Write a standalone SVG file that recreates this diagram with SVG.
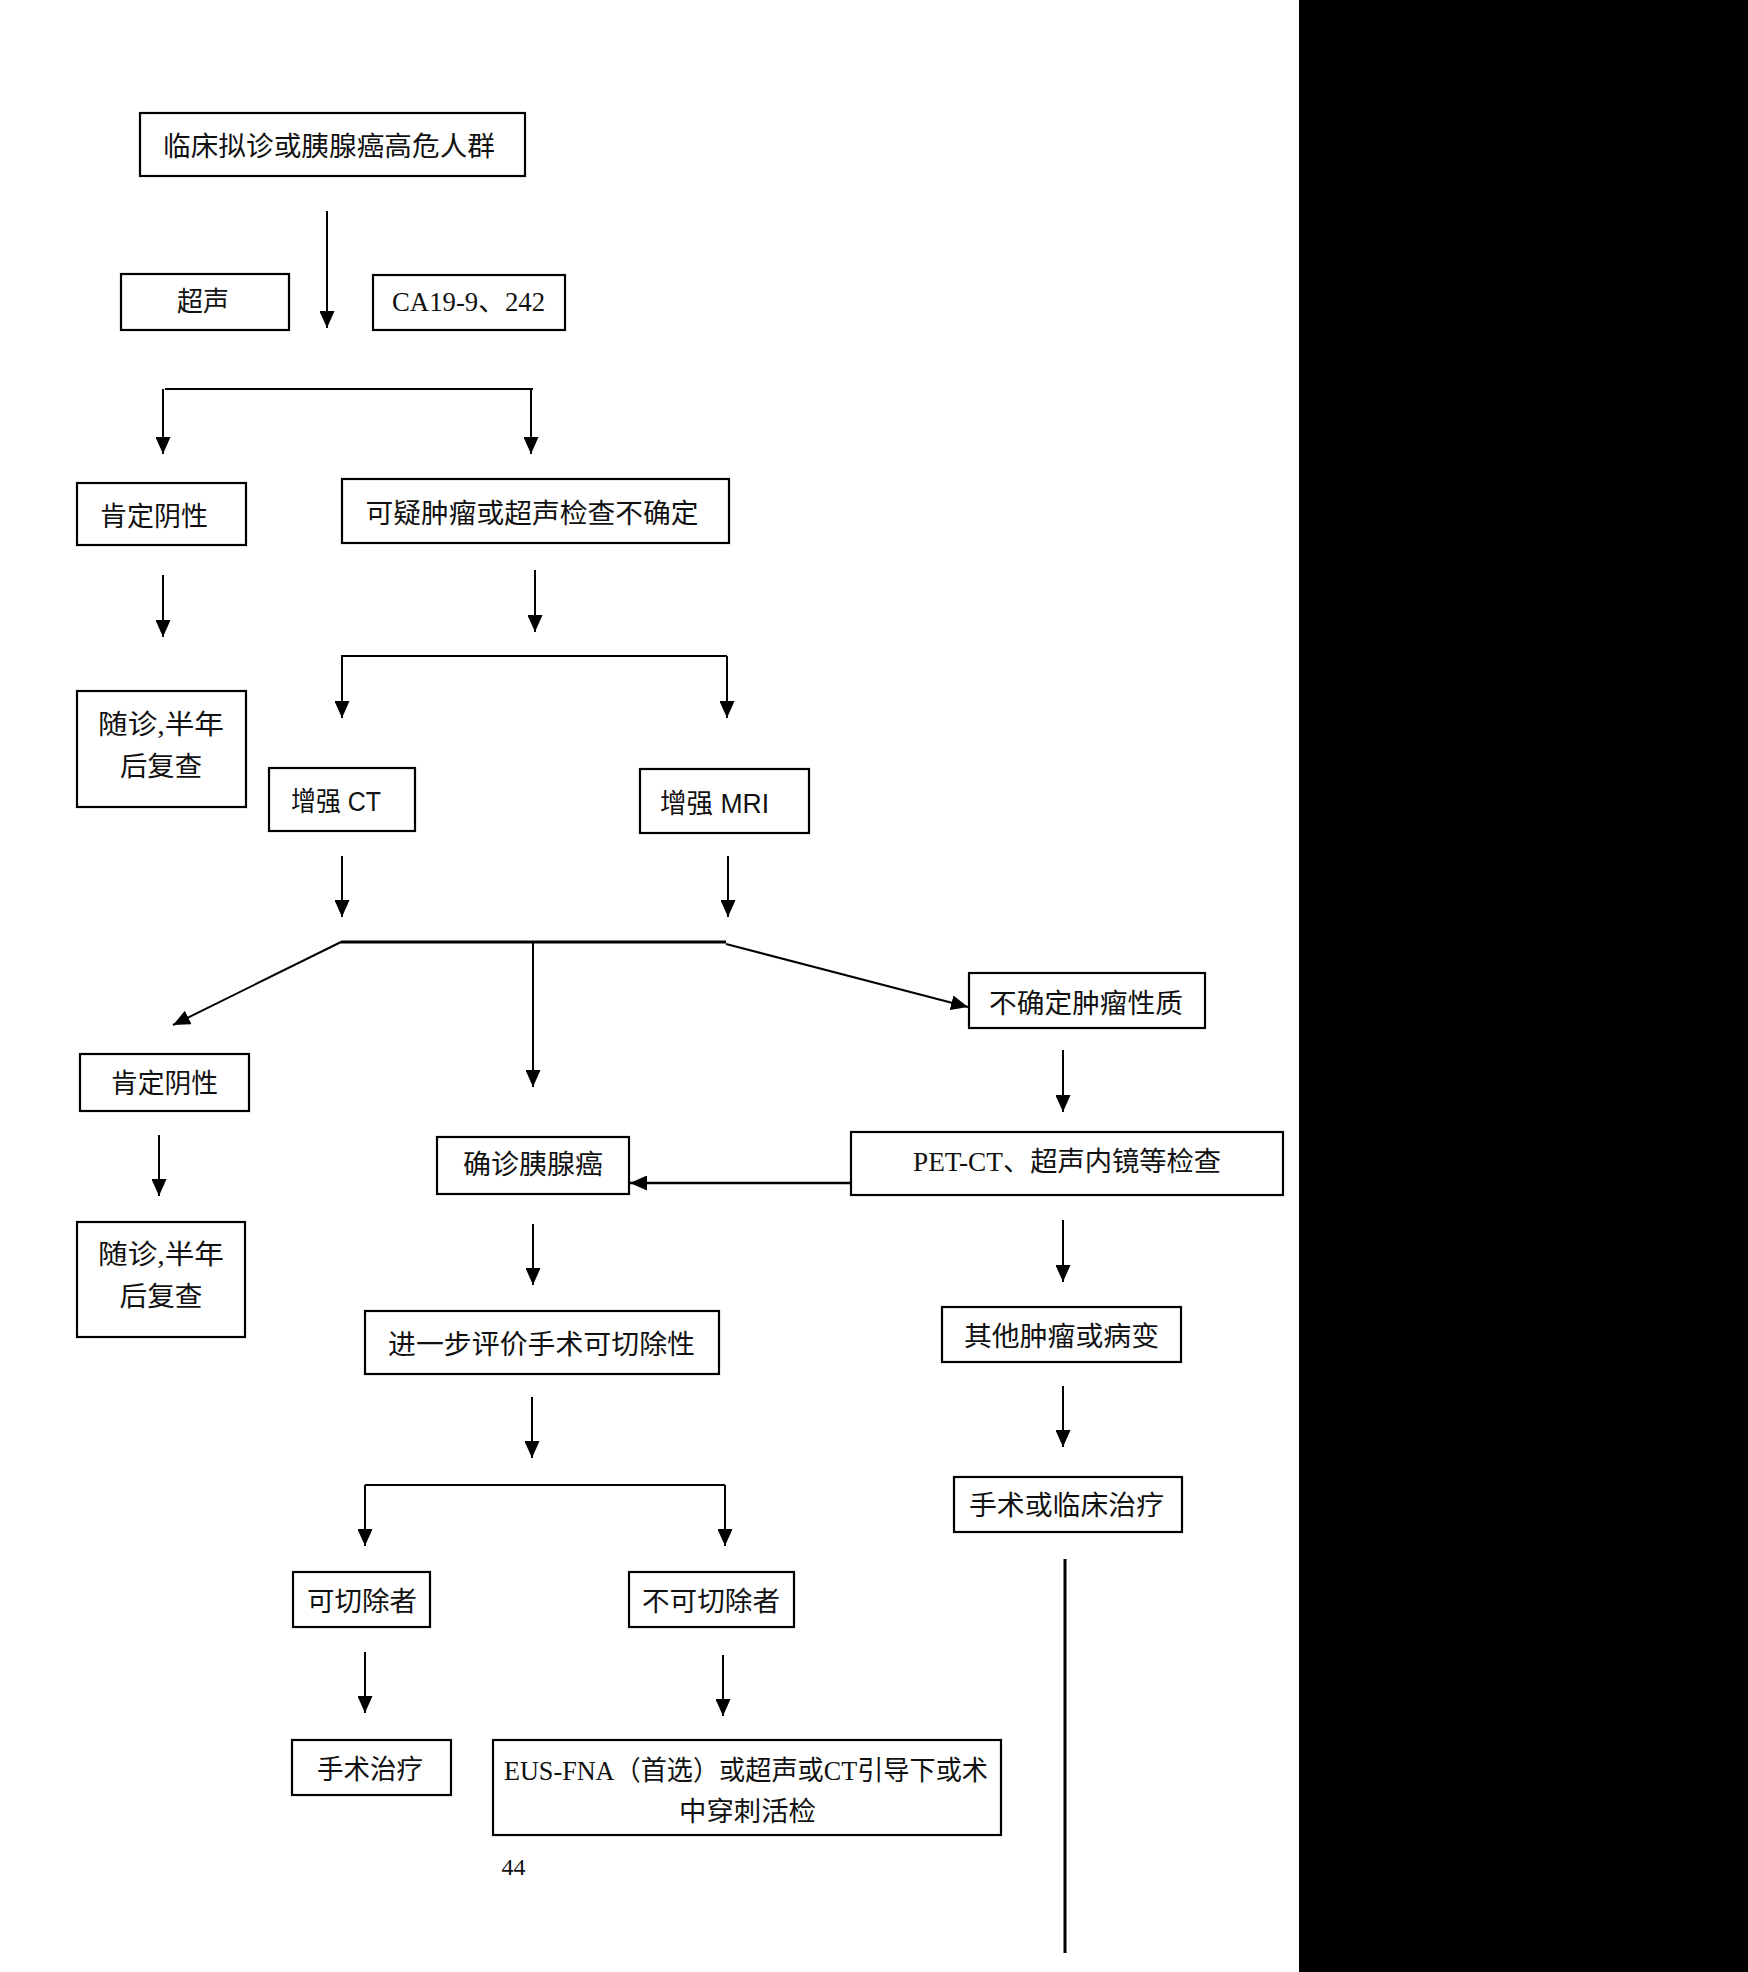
<svg xmlns="http://www.w3.org/2000/svg" width="1748" height="1972" viewBox="0 0 1748 1972">
<defs>
<marker id="ah" markerUnits="userSpaceOnUse" markerWidth="17" markerHeight="15" refX="17" refY="7.5" orient="auto">
<path d="M0,0 L17,7.5 L0,15 z" fill="#000"/>
</marker>
<style>
.box{fill:#fff;stroke:#000;stroke-width:2.2}
.t{font-family:"Liberation Serif","Noto Sans CJK SC",serif;font-size:27px;fill:#111;text-anchor:middle;dominant-baseline:central}
.s{font-family:"Liberation Sans","Noto Sans CJK SC",sans-serif;font-size:27px;fill:#111;text-anchor:middle;dominant-baseline:central}
.c{stroke:#000;stroke-width:2;fill:none}
.a{stroke:#000;stroke-width:2;fill:none;marker-end:url(#ah)}
</style>
</defs>
<rect width="1748" height="1972" fill="#fff"/>
<rect x="1299" y="0" width="449" height="1972" fill="#000"/>

<g id="connectors">
<line class="a" x1="327" y1="211" x2="327" y2="328"/>
<line class="c" x1="165" y1="389" x2="533" y2="389"/>
<line class="a" x1="163" y1="389" x2="163" y2="454"/>
<line class="a" x1="531" y1="389" x2="531" y2="454"/>
<line class="a" x1="163" y1="575" x2="163" y2="637"/>
<line class="a" x1="535" y1="570" x2="535" y2="632"/>
<line class="c" x1="341" y1="656" x2="727" y2="656"/>
<line class="a" x1="342" y1="656" x2="342" y2="718"/>
<line class="a" x1="727" y1="656" x2="727" y2="718"/>
<line class="a" x1="342" y1="856" x2="342" y2="917"/>
<line class="a" x1="728" y1="856" x2="728" y2="917"/>
<line class="c" x1="341" y1="942" x2="726" y2="942" style="stroke-width:3.2"/>
<line class="a" x1="341" y1="942" x2="173" y2="1025"/>
<line class="a" x1="533" y1="942" x2="533" y2="1087"/>
<line class="a" x1="726" y1="944" x2="968" y2="1007"/>
<line class="a" x1="159" y1="1135" x2="159" y2="1196"/>
<line class="a" x1="1063" y1="1050" x2="1063" y2="1112"/>
<line class="a" x1="850" y1="1183" x2="630" y2="1183" style="stroke-width:2.6"/>
<line class="a" x1="533" y1="1224" x2="533" y2="1285"/>
<line class="a" x1="1063" y1="1220" x2="1063" y2="1282"/>
<line class="a" x1="532" y1="1397" x2="532" y2="1458"/>
<line class="a" x1="1063" y1="1386" x2="1063" y2="1447"/>
<line class="c" x1="365" y1="1485" x2="725" y2="1485"/>
<line class="a" x1="365" y1="1485" x2="365" y2="1546"/>
<line class="a" x1="725" y1="1485" x2="725" y2="1546"/>
<line class="a" x1="365" y1="1652" x2="365" y2="1713"/>
<line class="a" x1="723" y1="1655" x2="723" y2="1716"/>
<line class="c" x1="1065" y1="1559" x2="1065" y2="1953" style="stroke-width:3"/>
</g>

<g id="n1"><rect class="box" x="140" y="113" width="385" height="63"/><text class="t" x="329" y="146.5" textLength="332" lengthAdjust="spacingAndGlyphs">临床拟诊或胰腺癌高危人群</text></g>
<g id="n2"><rect class="box" x="121" y="274" width="168" height="56"/><text class="t" x="203" y="301.5" textLength="52" lengthAdjust="spacingAndGlyphs">超声</text></g>
<g id="n3"><rect class="box" x="373" y="275" width="192" height="55"/><text class="t" x="468.5" y="301.5" textLength="153" lengthAdjust="spacingAndGlyphs">CA19-9、242</text></g>
<g id="n4"><rect class="box" x="77" y="483" width="169" height="62"/><text class="t" x="154" y="516.5" textLength="108" lengthAdjust="spacingAndGlyphs">肯定阴性</text></g>
<g id="n5"><rect class="box" x="342" y="479" width="387" height="64"/><text class="t" x="532" y="513.5" textLength="333" lengthAdjust="spacingAndGlyphs">可疑肿瘤或超声检查不确定</text></g>
<g id="n6"><rect class="box" x="77" y="691" width="169" height="116"/><text class="t" x="161" y="724.5" textLength="126" lengthAdjust="spacingAndGlyphs">随诊,半年</text><text class="t" x="161" y="766.5" textLength="82" lengthAdjust="spacingAndGlyphs">后复查</text></g>
<g id="n7"><rect class="box" x="269" y="768" width="146" height="63"/><text class="s" x="336" y="801.5" textLength="90" lengthAdjust="spacingAndGlyphs">增强 CT</text></g>
<g id="n8"><rect class="box" x="640" y="769" width="169" height="64"/><text class="s" x="714.5" y="803.5" textLength="109" lengthAdjust="spacingAndGlyphs">增强 MRI</text></g>
<g id="n9"><rect class="box" x="969" y="973" width="236" height="55"/><text class="t" x="1086" y="1003.5" textLength="194" lengthAdjust="spacingAndGlyphs">不确定肿瘤性质</text></g>
<g id="n10"><rect class="box" x="80" y="1054" width="169" height="57"/><text class="t" x="164.5" y="1083.5" textLength="107" lengthAdjust="spacingAndGlyphs">肯定阴性</text></g>
<g id="n11"><rect class="box" x="437" y="1137" width="192" height="57"/><text class="t" x="533" y="1164.5" textLength="140" lengthAdjust="spacingAndGlyphs">确诊胰腺癌</text></g>
<g id="n12"><rect class="box" x="851" y="1132" width="432" height="63"/><text class="t" x="1067" y="1161.5" textLength="308" lengthAdjust="spacingAndGlyphs">PET-CT、超声内镜等检查</text></g>
<g id="n13"><rect class="box" x="77" y="1222" width="168" height="115"/><text class="t" x="161" y="1254.5" textLength="126" lengthAdjust="spacingAndGlyphs">随诊,半年</text><text class="t" x="161" y="1296.5" textLength="83" lengthAdjust="spacingAndGlyphs">后复查</text></g>
<g id="n14"><rect class="box" x="365" y="1311" width="354" height="63"/><text class="t" x="541.5" y="1344.5" textLength="307" lengthAdjust="spacingAndGlyphs">进一步评价手术可切除性</text></g>
<g id="n15"><rect class="box" x="942" y="1307" width="239" height="55"/><text class="t" x="1061.5" y="1336.5" textLength="195" lengthAdjust="spacingAndGlyphs">其他肿瘤或病变</text></g>
<g id="n16"><rect class="box" x="954" y="1477" width="228" height="55"/><text class="t" x="1066.5" y="1505.5" textLength="195" lengthAdjust="spacingAndGlyphs">手术或临床治疗</text></g>
<g id="n17"><rect class="box" x="293" y="1572" width="137" height="55"/><text class="t" x="362" y="1601.5" textLength="110" lengthAdjust="spacingAndGlyphs">可切除者</text></g>
<g id="n18"><rect class="box" x="629" y="1572" width="165" height="55"/><text class="t" x="711" y="1601.5" textLength="138" lengthAdjust="spacingAndGlyphs">不可切除者</text></g>
<g id="n19"><rect class="box" x="292" y="1740" width="159" height="55"/><text class="t" x="370" y="1769.5" textLength="106" lengthAdjust="spacingAndGlyphs">手术治疗</text></g>
<g id="n20"><rect class="box" x="493" y="1740" width="508" height="95"/><text class="t" x="746" y="1770.5" textLength="484" lengthAdjust="spacingAndGlyphs">EUS-FNA（首选）或超声或CT引导下或术</text><text class="t" x="747.5" y="1811.5" textLength="137" lengthAdjust="spacingAndGlyphs">中穿刺活检</text></g>
<text class="t" x="513.5" y="1867" style="font-size:24px">44</text>
</svg>
